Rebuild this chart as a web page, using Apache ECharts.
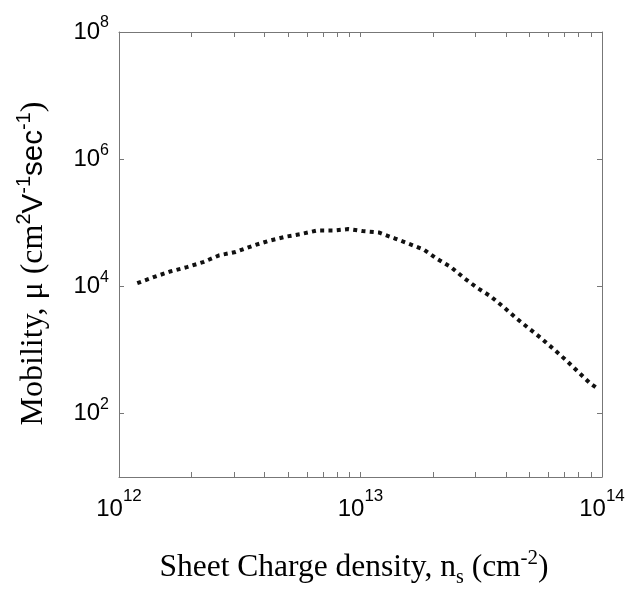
<!DOCTYPE html>
<html>
<head>
<meta charset="utf-8">
<script src="https://cdn.jsdelivr.net/npm/echarts@6/dist/echarts.min.js"></script>
<style>
html,body{margin:0;padding:0;background:#fff;}
#chart{width:628px;height:589px;}
</style>
</head>
<body>
<div id="chart"></div>
<script>
// Sheet charge density n_s (cm^-2)
const nsData = [1.19e12, 1.39e12, 1.63e12, 1.91e12, 2.23e12, 2.60e12, 3.04e12, 3.57e12, 4.17e12, 4.87e12,
  5.71e12, 6.62e12, 7.83e12, 8.89e12, 1.02e13, 1.19e13, 1.39e13, 1.59e13, 1.83e13, 2.09e13,
  2.37e13, 2.69e13, 3.05e13, 3.46e13, 3.93e13, 4.43e13, 5.00e13, 5.57e13, 6.28e13, 7.10e13,
  7.93e13, 8.91e13, 9.44e13];
// Mobility (cm^2 V^-1 s^-1)
const muData = [1.12e4, 1.39e4, 1.71e4, 2.00e4, 2.40e4, 3.07e4, 3.47e4, 4.32e4, 5.18e4, 6.0e4,
  6.68e4, 7.55e4, 7.55e4, 7.94e4, 7.38e4, 7.02e4, 5.64e4, 4.64e4, 3.77e4, 2.65e4,
  2.0e4, 1.34e4, 9.4e3, 6.94e3, 4.64e3, 3.11e3, 2.15e3, 1.55e3, 1.04e3, 687,
  459, 299, 256];
const xTickValues = [1e12, 2e12, 3e12, 4e12, 5e12, 6e12, 7e12, 8e12, 9e12,
  1e13, 2e13, 3e13, 4e13, 5e13, 6e13, 7e13, 8e13, 9e13, 1e14];
const xLabelValues = [1e12, 1e13, 1e14];
const yTickValues = [1e2, 1e4, 1e6];
const yLabelValues = [1e2, 1e4, 1e6, 1e8];

const axisColor = '#777';
const supFmt = v => '{b|10}{e|' + Math.round(Math.log10(v)) + '}';

const chart = echarts.init(document.getElementById('chart'), null, {renderer: 'canvas'});
const xBase = {
  type: 'log', logBase: 10, min: 1e12, max: 1e14,
  axisLine: {show: true, lineStyle: {color: axisColor, width: 1}},
  axisTick: {show: true, inside: true, length: 5, customValues: xTickValues, lineStyle: {color: axisColor}},
  splitLine: {show: false},
  minorTick: {show: false}
};
const yBase = {
  type: 'log', logBase: 10, min: 10, max: 1e8,
  axisLine: {show: true, lineStyle: {color: axisColor, width: 1}},
  axisTick: {show: true, inside: true, length: 5, customValues: yTickValues, lineStyle: {color: axisColor}},
  splitLine: {show: false},
  minorTick: {show: false}
};
const serif = "'Liberation Serif', 'Times New Roman', serif";
const sans = "'Liberation Sans', Arial, sans-serif";

chart.setOption({
  backgroundColor: '#fff',
  animation: false,
  grid: {left: 119, right: 26, top: 32, bottom: 112, containLabel: false, outerBoundsMode: 'none'},
  xAxis: [
    Object.assign({}, xBase, {
      position: 'bottom',
      axisLabel: {
        show: true, margin: 11, customValues: xLabelValues, formatter: supFmt,
        rich: {
          b: {fontSize: 24, fontFamily: sans, color: '#000', lineHeight: 42},
          e: {fontSize: 17, fontFamily: sans, color: '#000', lineHeight: 16, verticalAlign: 'top'}
        }
      },
      name: '{m|Sheet Charge density, n}{sub|s}{m| (cm}{sup|-2}{m|)}',
      nameLocation: 'middle',
      nameGap: 71,
      nameTextStyle: {
        padding: [0, 13, 0, 0],
        rich: {
          m: {fontSize: 31.5, fontFamily: serif, color: '#000', lineHeight: 40},
          sub: {fontSize: 20, fontFamily: serif, color: '#000', lineHeight: 26, verticalAlign: 'bottom'},
          sup: {fontSize: 21, fontFamily: serif, color: '#000', lineHeight: 15, verticalAlign: 'top'}
        }
      }
    }),
    Object.assign({}, xBase, {
      position: 'top',
      axisLabel: {show: false}
    })
  ],
  yAxis: [
    Object.assign({}, yBase, {
      position: 'left',
      axisLabel: {
        show: true, margin: 10, customValues: yLabelValues, formatter: supFmt,
        rich: {
          b: {fontSize: 24, fontFamily: sans, color: '#000', lineHeight: 34},
          e: {fontSize: 16, fontFamily: sans, color: '#000', lineHeight: 16, verticalAlign: 'top'}
        }
      },
      name: '{m|Mobility, μ (cm}{sup|2}{s|V}{sup|-1}{s|sec}{sup|-1}{m|)}',
      nameLocation: 'middle',
      nameGap: 65,
      nameTextStyle: {
        padding: [0, 18, 0, 0],
        rich: {
          m: {fontSize: 32, fontFamily: serif, color: '#000', lineHeight: 40},
          s: {fontSize: 29.5, fontFamily: sans, color: '#000', lineHeight: 40},
          sup: {fontSize: 20, fontFamily: sans, color: '#000', lineHeight: 12, verticalAlign: 'top'}
        }
      }
    }),
    Object.assign({}, yBase, {
      position: 'right',
      axisLabel: {show: false}
    })
  ],
  series: [{
    type: 'line',
    xAxisIndex: 0,
    yAxisIndex: 0,
    data: nsData.map((x, i) => [x, muData[i]]),
    showSymbol: false,
    smooth: false,
    lineStyle: {color: '#111', width: 4, type: [4, 4.3], cap: 'butt'}
  }]
});
</script>
</body>
</html>
